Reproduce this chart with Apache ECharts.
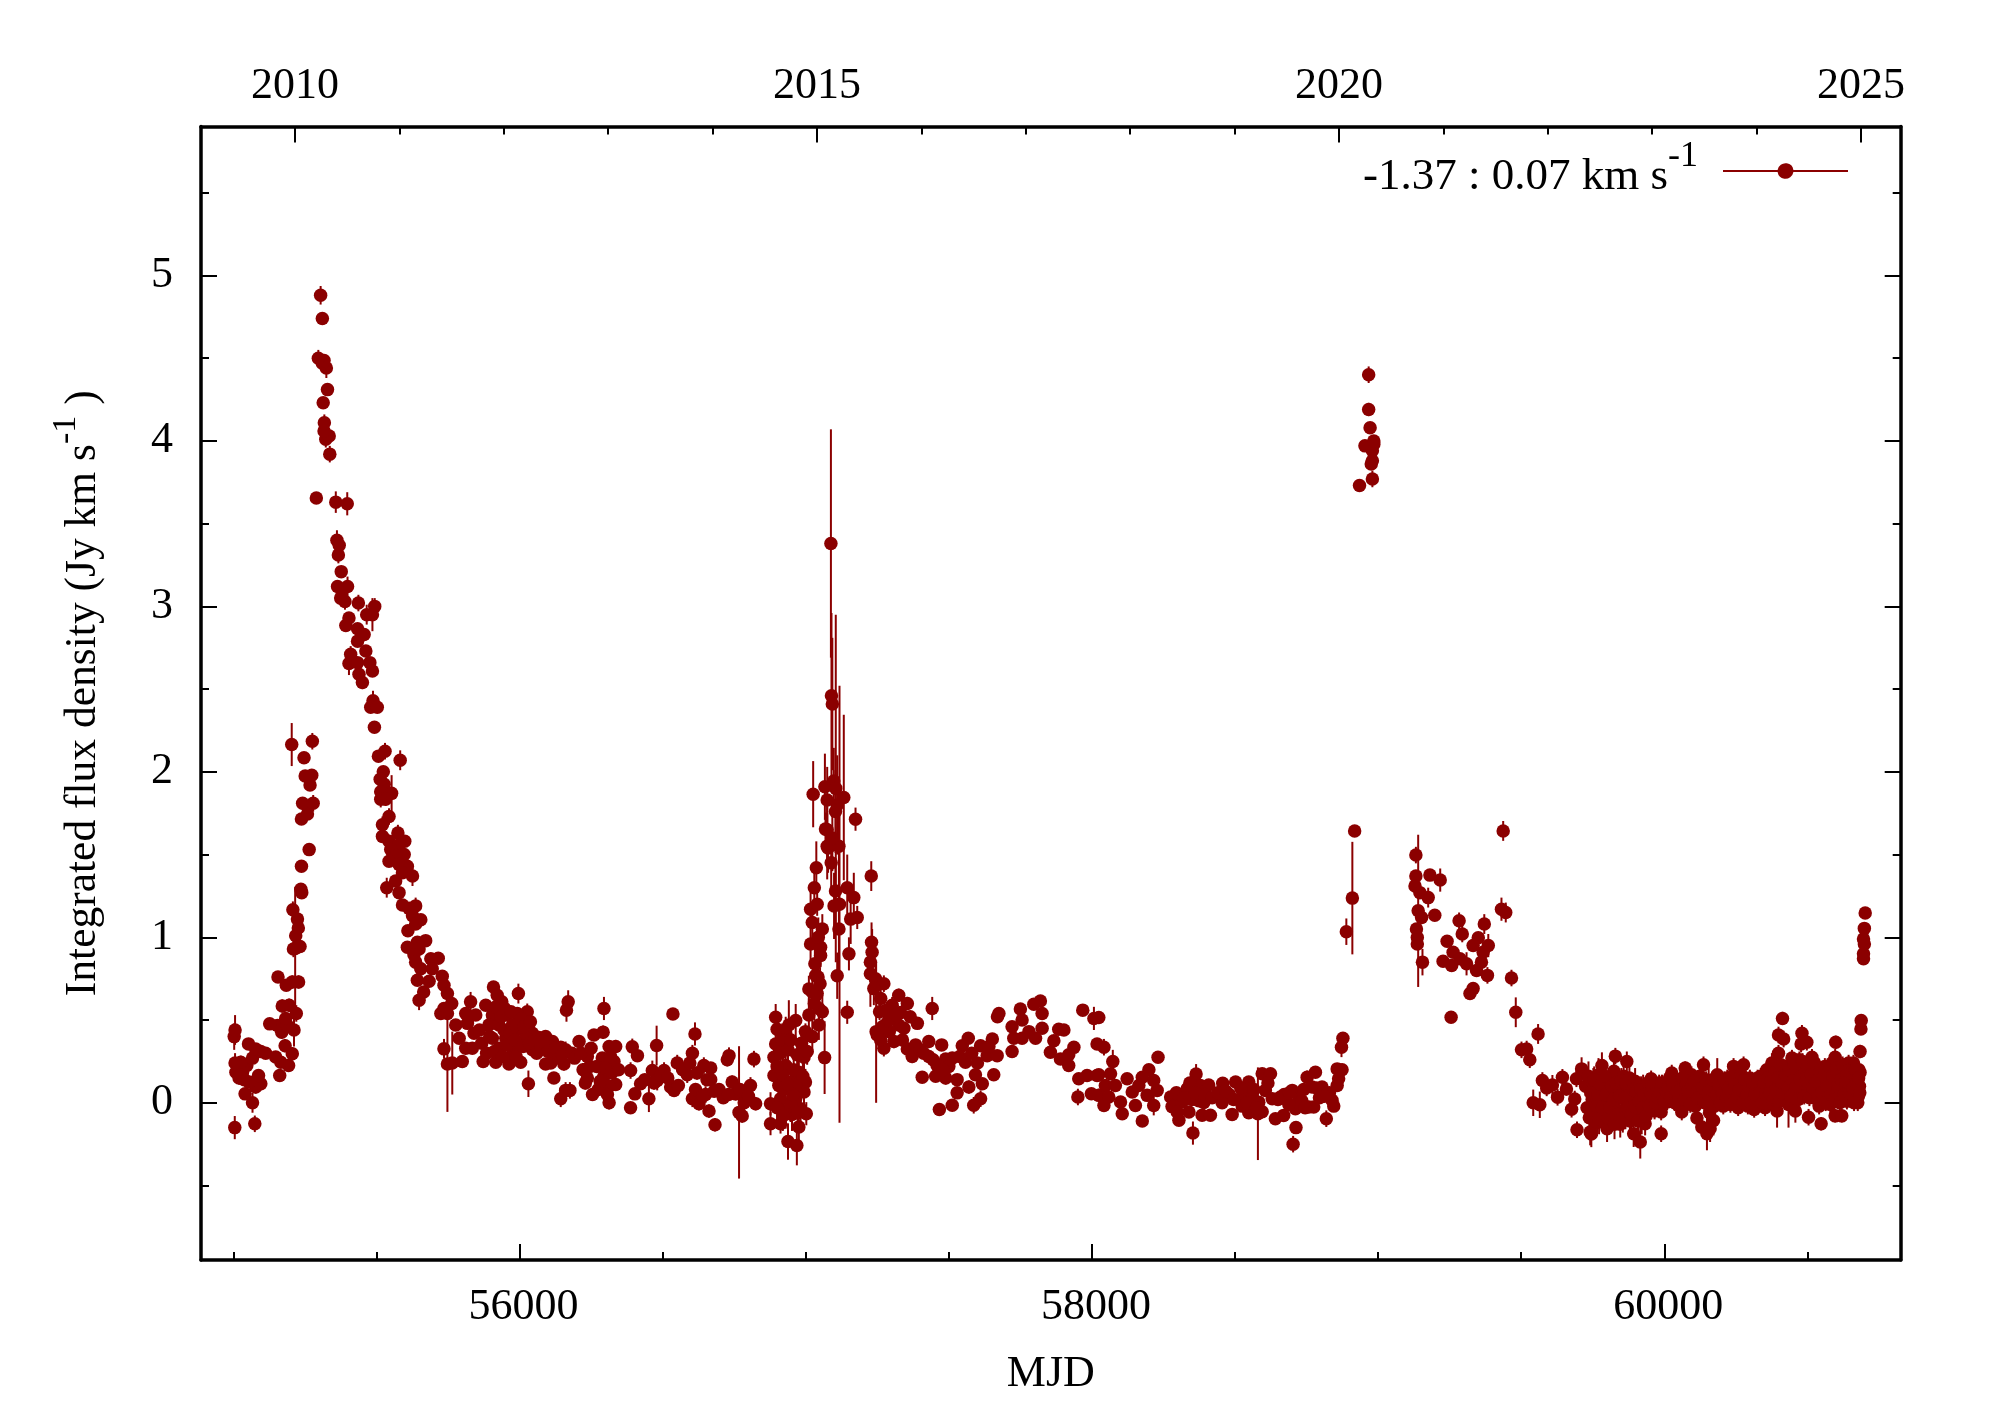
<!DOCTYPE html>
<html>
<head>
<meta charset="utf-8">
<title>Integrated flux density</title>
<script src="https://cdn.jsdelivr.net/npm/echarts@6/dist/echarts.min.js"></script>
<style>
html, body { margin: 0; padding: 0; background: #fff; }
#main { width: 2001px; height: 1401px; }
</style>
</head>
<body>
<div id="main"></div>
<script>
// rows are [MJD, flux, error]
var rise2010 = [
[55005,-.15,.07],[55075,-.127,.05],[55067,0,.06],[55041,.054,.03],[55078,.095,.04],[55096,.115,.03],[55055,.125,.03],[55038,.14,.03],[55020,.15,.04],[55088,.165,.03],[55162,.165,.03],[55032,.185,.04],[55009,.185,.05],[55193,.225,.03],[55047,.225,.03],[55166,.245,.03],[55026,.245,.04],[55006,.24,.06],[55067,.27,.03],[55148,.277,.03],[55206,.296,.04],[55113,.30,.03],[55096,.31,.03],[55078,.325,.03],[55181,.345,.04],[55053,.356,.03],[55003,.40,.08],[55169,.427,.04],[55006,.44,.09],[55212,.44,.1],[55154,.467,.03],[55189,.467,.03],[55127,.477,.03],[55183,.51,.04],[55220,.54,.05],[55195,.59,.04],[55171,.585,.04],[55206,.73,.04],[55228,.73,.04],[55185,.71,.03],[55156,.76,.03],[55210,.93,.05],[55216,.933,.37],[55233,.945,.04],[55218,1.01,.05],[55227,1.056,.04],[55224,1.11,.05],[55208,1.167,.05],[55236,1.29,.03],[55239,1.27,.03],[55238,1.43,.03],[55265,1.53,.03],[55238,1.715,.03],[55259,1.745,.03],[55259,1.79,.03],[55242,1.81,.03],[55279,1.81,.05],[55268,1.92,.03],[55251,1.975,.03],[55274,1.98,.03],[55247,2.085,.03],[55204,2.165,.13],[55276,2.185,.05]
];
var peak2010 = [
[55290,3.655,.01],[55358,3.63,.065],[55398,3.62,.07],[55337,3.92,.05],[55323,4.01,.05],[55335,4.03,.03],[55317,4.06,.03],[55318,4.11,.05],[55314,4.23,.03],[55329,4.31,.03],[55325,4.44,.06],[55311,4.47,.03],[55317,4.486,.03],[55297,4.50,.05],[55311,4.74,.03],[55305,4.88,.056]
];
var decay2010 = [
[55362,3.40,.06],[55370,3.37,.03],[55367,3.31,.05],[55377,3.21,.03],[55364,3.12,.03],[55399,3.12,.06],[55381,3.10,.03],[55375,3.05,.03],[55390,3.03,.05],[55437,3.02,.05],[55494,3.00,.05],[55466,2.95,.06],[55486,2.95,.1],[55404,2.93,.03],[55393,2.885,.04],[55434,2.865,.03],[55457,2.83,.03],[55434,2.79,.03],[55463,2.73,.03],[55410,2.71,.05],[55477,2.66,.03],[55404,2.655,.07],[55434,2.66,.03],[55486,2.61,.03],[55439,2.59,.03],[55451,2.54,.04],[55488,2.43,.06],[55480,2.39,.03],[55503,2.39,.03],[55493,2.27,.03],[55530,2.125,.05],[55507,2.095,.03],[55583,2.07,.06],[55524,2.00,.03],[55513,1.955,.03],[55527,1.925,.03],[55515,1.88,.04],[55553,1.87,.11],[55515,1.835,.05],[55532,1.835,.04],[55544,1.73,.05],[55521,1.68,.05],[55575,1.63,.05],[55521,1.61,.04],[55599,1.58,.03],[55544,1.58,.04],[55579,1.56,.03],[55550,1.53,.03],[55597,1.50,.03],[55568,1.49,.03],[55544,1.46,.03],[55608,1.43,.03],[55579,1.44,.03],[55591,1.39,.03],[55626,1.37,.06],[55567,1.34,.03],[55536,1.30,.06],[55579,1.27,.03],[55591,1.195,.03],[55637,1.19,.05],[55614,1.175,.03],[55626,1.13,.03],[55655,1.106,.03],[55637,1.08,.03],[55610,1.04,.03],[55672,.98,.03],[55643,.97,.03],[55608,.94,.03],[55649,.93,.03],[55631,.895,.03],[55716,.873,.03],[55690,.87,.03],[55637,.85,.03],[55655,.81,.03],[55695,.81,.03],[55730,.765,.03],[55643,.74,.03],[55684,.735,.03],[55736,.71,.03],[55665,.67,.03],[55748,.66,.03],[55649,.62,.06],[55763,.60,.03],[55736,.57,.03],[55725,.54,.03],[55748,.54,.03],[55777,.47,.03],[55789,.39,.03],[55736,.326,.06],[55748,.235,.29],[55765,.24,.19],[55800,.25,.03]
];
var quiet2011 = [
[55829,.61,.06],[55812,.54,.03],[55847,.53,.03],[55818,.48,.03],[55841,.42,.03],[55835,.33,.03],[55812,.33,.03],[55873,.25,.03],[55909,.70,.03],[55922,.65,.03],[55938,.61,.03],[55882,.59,.03],[55996,.66,.06],[56027,.55,.05],[55992,.54,.03],[55957,.53,.03],[55905,.53,.03],[55893,.47,.03],[55928,.47,.03],[55975,.47,.03],[55998,.445,.03],[56045,.42,.03],[56091,.40,.03],[55905,.39,.03],[55952,.39,.03],[56022,.39,.03],[56068,.395,.03],[56115,.37,.04],[55928,.33,.03],[55975,.33,.03],[56045,.32,.03],[56144,.335,.03],[55963,.27,.03],[56004,.245,.03],[56132,.28,.03],[56161,.32,.05],[55917,.245,.03],[55963,.235,.03],[56091,.235,.03],[56208,.37,.03],[56109,.24,.03],[56155,.235,.04],[56237,.28,.03],[56031,.115,.08],[56120,.15,.03],[56161,.075,.05],[56176,.075,.05],[56144,.024,.05],[56170,.61,.07],[56164,.56,.07],[56237,.15,.03],[56255,.05,.03],[56260,.41,.03],[56230,.12,.04],
[55860,.44,.03],[55868,.36,.03],[55885,.30,.03],[55896,.40,.03],[55912,.31,.03],[55918,.58,.03],[55935,.52,.03],[55940,.28,.03],[55946,.44,.03],[55948,.57,.03],[55958,.35,.03],[55968,.42,.03],[55970,.55,.03],[55984,.38,.03],[55988,.28,.03],[55986,.47,.03],[56006,.51,.03],[56012,.34,.03],[56016,.46,.03],[56035,.36,.03],[56038,.49,.03],[56052,.37,.03],[56060,.30,.03],[56074,.34,.03],[56082,.37,.03],[56100,.31,.03],[56126,.33,.03],[56138,.27,.03],[56150,.29,.03],[56183,.30,.03],[56192,.27,.03],[56215,.30,.03],[56222,.20,.04],[56246,.22,.03],[56250,.33,.03],
[56295,.57,.07],[56292,.427,.04],[56313,.34,.03],[56336,.34,.04],[56289,.27,.03],[56330,.25,.03],[56295,.16,.04],[56336,.11,.03],[56313,.10,.03],[56307,.05,.03],[56313,0,.04],[56270,.22,.03],[56275,.08,.04],[56302,.21,.03],[56322,.18,.03],[56346,.20,.03],[56282,.13,.03],[56318,.28,.03],
[56536,.537,.03],[56479,.346,.12],[56394,.338,.05],[56412,.285,.03],[56388,.195,.05],[56388,-.03,.03],[56423,.115,.03],[56403,.054,.03],[56452,.024,.08],[56464,.195,.06],[56481,.135,.06],[56505,.195,.05],[56528,.095,.05],[56551,.24,.05],[56540,.075,.04],[56555,.105,.03],[56586,.17,.05],[56604,.30,.05],[56613,.416,.07],[56644,.225,.05],[56604,.024,.05],[56627,-.006,.04],[56668,.21,.03],[56668,.14,.04],[56650,.05,.05],[56697,.08,.03],[56662,-.05,.04],[56683,-.133,.04],[56732,.285,.05],[56726,.26,.04],[56743,.125,.04],[56755,.054,.04],[56819,.264,.05],[56767,-.058,.40],[56778,-.08,.04],[56807,.105,.05],[56790,.024,.04],[56825,-.006,.04],
[56438,.14,.03],[56470,.12,.04],[56495,.16,.05],[56518,.15,.04],[56570,.20,.05],[56595,.24,.05],[56620,.18,.04],[56615,.08,.04],[56640,.04,.04],[56655,.14,.03],[56680,.07,.03],[56712,.03,.03],[56730,.05,.04],[56770,.08,.04],[56785,.0,.04],[56800,.04,.04]
];
var rise2015 = [
[56895,.517,.08],[56965,.497,.1],[56900,.445,.07],[56941,.47,.15],[56895,.355,.07],[56930,.42,.1],[56889,.275,.08],[56912,.30,.1],[56994,.275,.1],[56889,.165,.07],[56930,.225,.1],[56976,.185,.1],[56999,.125,.08],[56906,.105,.09],[56947,.125,.12],[56982,.085,.1],[56994,.065,.09],[56920,.17,.1],[56958,.2,.12],[56965,.11,.1],[56877,-.006,.07],[56912,.024,.1],[56965,.024,.12],[56982,-.036,.1],[56930,-.056,.1],[56947,-.016,.1],[57002,-.066,.07],[56877,-.126,.07],[56912,-.126,.06],[56976,-.146,.1],[56938,-.234,.11],[56969,-.258,.12],[57011,.688,.08],[57023,.67,.07],[57035,.77,.07],[57043,.76,.09],[57046,.57,.09],[57058,.55,.1],[57011,.53,.1],[56999,.43,.05],[57023,.40,.1],[57066,.273,.22],[57046,.47,.09],[57037,1.42,.16],[57069,1.654,.1],[57078,1.54,.15],[57089,1.45,.15],[57017,1.17,.1],[57040,1.2,.07],[57023,1.09,.12],[57058,1.05,.09],[57017,.96,.1],[57052,.94,.08],[57052,.89,.07],[57026,1.865,.2],[57067,1.91,.2],[57098,1.945,.2],[57075,1.83,.2],[57133,1.845,.5],[57110,1.8,.3],[57104,1.76,.25],[57075,1.65,.2],[57075,1.55,.2],[57116,1.55,.3],[57093,1.6,.2],
[56900,.22,.09],[56918,.38,.1],[56938,.32,.12],[56948,.38,.1],[56955,.05,.1],[56970,.29,.1],[56985,.36,.09],[56900,-.03,.08],[56922,.08,.1],[56938,.11,.1],[56952,-.07,.1],[56972,-.06,.1],[56990,.16,.1],[56920,-.08,.09],[57005,.31,.08],[57030,.60,.1],[57040,.66,.1],[57050,.72,.1],[57032,.84,.12],[57044,1.0,.12],[57030,1.30,.14]
];
var peak2015 = [
[57088,3.38,.69],[57090,2.46,.5],[57093,2.41,.4],[57105,1.9,1.05],[57118,1.2,1.32],[57110,.768,.14],[57104,1.28,.2],[57145,1.30,.2],[57168,1.24,.15],[57099,1.19,.2],[57157,1.11,.15],[57180,1.12,.07],[57116,1.05,.25],[57151,.90,.1],[57145,.547,.07],[57174,1.714,.07],[57229,1.37,.09]
];
var decay2015 = [
[57230,.97,.12],[57232,.91,.14],[57226,.85,.12],[57226,.78,.2],[57244,.75,.1],[57273,.72,.05],[57238,.69,.1],[57262,.63,.06],[57246,.43,.43],[57325,.65,.04],[57355,.6,.04],[57302,.59,.05],[57390,.48,.03],[57302,.53,.05],[57331,.545,.04],[57279,.47,.05],[57325,.47,.04],[57343,.45,.04],[57250,.41,.05],[57292,.43,.04],[57308,.37,.04],[57273,.33,.05],[57442,.57,.07],[57355,.325,.04],[57384,.35,.03],[57430,.37,.03],[57475,.35,.03],[57372,.28,.04],[57407,.155,.03],[57430,.28,.04],[57459,.225,.03],[57489,.265,.03],[57512,.27,.03],[57547,.345,.03],[57568,.39,.03],[57611,.345,.03],[57652,.385,.03],[57634,.285,.03],[57669,.285,.03],[57558,.245,.03],[57657,.17,.03],[57454,.16,.03],[57489,.15,.04],[57529,.14,.03],[57593,.17,.03],[57617,.115,.03],[57570,.095,.04],[57529,.06,.03],[57611,.025,.05],[57512,-.015,.03],[57587,-.015,.05],[57467,-.04,.02],
[57258,.55,.05],[57268,.46,.05],[57282,.56,.05],[57290,.50,.04],[57315,.53,.04],[57262,.38,.05],[57338,.38,.04],[57365,.52,.03],[57400,.32,.03],[57412,.30,.03],[57445,.26,.03],[57470,.22,.03],[57500,.22,.03],[57480,.20,.03],[57538,.28,.03],[57580,.30,.03],[57600,.24,.03],[57640,.34,.03]
];
var bump2017 = [
[57675,.54,.03],[57670,.52,.03],[57750,.567,.03],[57820,.615,.03],[57797,.595,.03],[57721,.46,.03],[57756,.5,.03],[57826,.54,.03],[57826,.45,.03],[57803,.39,.03],[57756,.39,.03],[57727,.39,.03],[57721,.31,.03],[57780,.43,.03],[57884,.445,.03],[57902,.44,.03],[57867,.375,.03],[57855,.305,.03],[57890,.265,.03],[57937,.335,.03],[57919,.29,.03],[57968,.56,.03],[58007,.51,.07],[58018,.355,.03],[57919,.225,.03],[57954,.145,.03],[57983,.165,.03],[58018,.165,.03],[57951,.035,.05],[57998,.055,.03],[58024,.045,.04]
];
var quiet2018 = [
[58042,.336,.05],[58231,.275,.03],[58024,.515,.03],[58073,.25,.07],[58065,.175,.03],[58024,.17,.03],[58042,-.016,.03],[58106,-.066,.03],[58047,.105,.03],[58082,.105,.03],[58059,.035,.03],[58123,.145,.03],[58141,.065,.03],[58100,.005,.03],[58152,-.016,.03],[58176,-.11,.02],[58216,-.016,.06],[58199,.2,.03],[58176,.155,.03],[58216,.135,.03],[58228,.075,.03],[58193,.045,.03],[58164,.105,.03],
[58275,.035,.03],[58280,-.023,.03],[58304,-.106,.03],[58333,.085,.03],[58315,.005,.03],[58298,-.055,.03],[58339,-.055,.03],[58364,.174,.06],[58379,.104,.03],[58408,.108,.03],[58373,.012,.03],[58391,.002,.03],[58385,-.075,.03],[58414,-.075,.03],[58353,-.183,.07],[58350,.02,.03],[58295,.06,.03],
[58457,.118,.03],[58502,.126,.03],[58548,.126,.03],[58455,0,.03],[58490,-.07,.03],[58513,.02,.03],[58548,-.06,.03],[58537,.066,.03],[58583,.004,.03],[58595,-.054,.03],[58595,.175,.03],[58624,.175,.03],[58606,.075,.03],[58630,.025,.03],[58580,-.066,.28],[58641,-.096,.03],[58670,-.076,.03],[58700,.075,.03],[58659,.035,.03],[58723,.02,.03],[58711,-.036,.03],[58758,-.026,.03],[58775,-.026,.03],[58713,-.15,.03],[58703,-.25,.05],[58819,-.096,.05],[58752,.155,.04],[58781,.185,.03],[58769,.095,.03],[58839,.015,.03],[58804,.095,.03],[58857,.105,.03],[58857,.205,.03],[58874,.2,.03],[58862,.145,.03],[58734,.01,.03],[58688,-.01,.03],[58480,.05,.03],[58525,-.02,.03],[58560,.03,.03],[58795,.03,.03],[58830,.06,.03],[58845,-.02,.03],
[58322,.03,.03],[58342,.12,.03],[58362,.06,.03],[58396,.05,.03],[58420,.03,.03],[58440,.06,.03],[58468,.07,.03],[58495,.02,.03],[58520,.09,.03],[58542,.0,.03],[58566,.08,.03],[58575,-.03,.03],[58615,.12,.03],[58650,.02,.03],[58672,.05,.03],[58690,.06,.03],[58740,.08,.03],[58745,-.03,.03],[58785,.09,.03],[58812,.04,.03]
];
var burst2020 = [
[58877,.39,.03],[58872,.336,.06],[58889,1.034,.08],[58910,1.237,.34],[58918,1.643,.03],[58935,3.73,.02],[58954,3.97,.03],[58967,4.40,.05],[58967,4.19,.04],[58972,4.08,.03],[58980,3.94,.03],[58980,3.88,.03],[58985,3.98,.03],[58985,4.0,.03],[58976,3.86,.03],[58980,3.77,.05]
];
var decay2021 = [
[59132,1.497,.05],[59132,1.37,.03],[59129,1.31,.03],[59146,1.27,.03],[59181,1.376,.02],[59217,1.346,.07],[59175,1.24,.06],[59140,1.16,.46],[59152,1.12,.03],[59198,1.134,.03],[59134,1.05,.03],[59137,.999,.03],[59137,.96,.03],[59155,.85,.08],[59283,1.10,.05],[59294,1.02,.05],[59241,.976,.03],[59371,1.08,.06],[59350,.998,.03],[59332,.95,.03],[59385,.95,.07],[59367,.91,.03],[59361,.85,.03],[59262,.91,.03],[59227,.855,.03],[59257,.83,.03],[59286,.87,.03],[59309,.84,.07],[59344,.80,.03],[59382,.77,.05],[59332,.69,.03],[59321,.66,.03],[59255,.517,.03],[59431,1.17,.07],[59446,1.15,.06],[59437,1.643,.06],[59466,.754,.05],[59481,.547,.09],[59559,.416,.06],[59501,.32,.05],[59519,.325,.05],[59530,.26,.05],[59542,0,.08],[59565,-.012,.08],[59574,.135,.05],[59609,.108,.06],[59589,.09,.05],[59644,.154,.05],[59658,.083,.04],[59627,.033,.05],[59687,.023,.05],[59676,-.039,.05],[59695,-.163,.05],[59693,.145,.05],[59711,.205,.07]
];
var band2022 = [
[59745,-.188,.08],[59741,-.177,.08],[59725,.10,.06],[59730,-.03,.07],[59735,.16,.09],[59738,-.09,.08],[59748,.02,.08],[59752,.12,.09],[59756,-.05,.08],[59760,.07,.09],[59765,-.12,.08],[59770,.17,.1],[59775,.0,.09],[59782,.225,.08],[59786,-.08,.1],[59790,.09,.08],[59796,-.02,.09],[59800,-.157,.08],[59806,.14,.07],[59812,.04,.09],[59818,-.09,.08],[59824,.19,.07],[59829,.282,.05],[59834,-.04,.09],[59840,.09,.08],[59846,-.13,.08],[59852,.03,.09],[59858,.16,.08],[59864,-.06,.1],[59869,.25,.06],[59875,.08,.08],[59880,-.11,.09],[59886,.01,.09],[59893,-.187,.08],[59898,.13,.08],[59904,-.04,.08],[59910,.06,.09],[59916,-.237,.1],[59921,-.09,.1],[59926,.1,.07],[59933,-.127,.07],[59938,-.02,.09],[59944,.05,.06],[59950,.11,.06],[59954,.145,.05],[59960,.02,.05],[59966,-.05,.05],[59974,.08,.05],[59982,.12,.05],[59989,-.187,.05],[59989,-.056,.05],[59996,.05,.05],[60004,.10,.05],[60010,.005,.05],[60018,.15,.05],[60026,.18,.05],[60032,.06,.05],[60040,.11,.05],[60047,-.01,.05],[60055,.14,.05],[60061,-.056,.05],[60068,.08,.05],[60073,.21,.04],[60080,.03,.05],[60088,.12,.05],[60095,.17,.05],[60101,.05,.05],[60108,-.02,.05],[60114,-.092,.05],[60121,.11,.05],[60128,.03,.05],[60131,-.147,.05],[60137,.23,.05],[60143,.07,.05],[60149,-.187,.1],[60155,.13,.1],[60160,-.157,.08],[60166,.01,.05],[60172,-.107,.09],[60178,.09,.05],[60185,.17,.1],[60192,.04,.05],[60199,.12,.05],[60206,-.02,.05],[60213,.08,.05],[60220,.15,.05],[60227,.03,.05],[60235,.10,.05],[60242,.22,.05],[60250,.06,.05],[60258,-.03,.05],[60265,.13,.05],[60272,.04,.05],[60277,.23,.05],[60284,.09,.05],[60292,-.02,.05],[60299,.15,.05],[60306,.05,.05],[60314,-.04,.05],[60322,.11,.05],[60330,.02,.05],[60337,.16,.05],[60345,.07,.05],[60352,-.03,.05],[60358,.20,.05],[60365,.10,.05],[60371,.0,.05],[60376,.24,.06],[60382,.13,.05],[60388,.05,.05],[60394,-.05,.1],[60399,.41,.05],[60399,.30,.05],[60405,.18,.05],[60413,.51,.04],[60417,.385,.05],[60421,.09,.05],[60428,.22,.05],[60434,-.01,.14],[60440,.14,.05],[60446,.27,.05],[60452,.06,.05],[60458,-.05,.07],[60465,.17,.05],[60472,.26,.05],[60478,.355,.05],[60481,.42,.05],[60486,.09,.05],[60492,.19,.05],[60498,.366,.05],[60504,-.087,.05],[60510,.12,.05],[60516,.275,.05],[60522,.03,.05],[60528,.18,.05],[60535,.08,.05],[60541,-.02,.05],[60548,-.127,.04],[60554,.13,.05],[60561,.22,.05],[60567,.05,.05],[60573,.16,.05],[60580,-.01,.05],[60586,.24,.05],[60592,.10,.05],[60597,-.079,.04],[60597,.275,.05],[60599,.366,.04],[60605,.15,.05],[60610,.04,.05],[60616,.2,.05],[60620,-.079,.04],[60626,.09,.05],[60632,.17,.05],[60638,.01,.05],[60644,.24,.05],[60650,.12,.05],[60655,.03,.05],[60661,.24,.05],[60665,.15,.05],[60670,.07,.05],[60676,.0,.05],[60680,.2,.05],[60684,.31,.04],[60684,.183,.05],[60682,.1,.05],[60678,.04,.05]
];
var bandFill2022 = [
[59743,.06,.08],[59747,-.07,.08],[59755,.14,.08],[59763,-.02,.09],[59768,.05,.08],[59772,-.1,.09],[59778,.11,.08],[59784,-.03,.09],[59792,.16,.07],[59798,.05,.08],[59804,-.09,.09],[59810,-.03,.08],[59816,.1,.08],[59822,.02,.09],[59826,-.13,.09],[59832,.12,.08],[59838,-.07,.09],[59844,.04,.09],[59850,.13,.08],[59855,-.09,.09],[59862,.03,.08],[59867,.12,.07],[59872,-.03,.09],[59878,.15,.08],[59884,-.07,.1],[59890,.08,.08],[59896,-.02,.09],[59902,.07,.08],[59908,-.11,.09],[59913,.01,.09],[59919,.08,.08],[59924,-.03,.09],[59930,.05,.08],[59936,-.08,.08],[59942,.12,.06],[59948,-.02,.07],[59952,.06,.05],[59958,.1,.05],[59964,.05,.05],[59970,.0,.05],[59978,.03,.05],[59985,.07,.05],[59992,.12,.05],[60000,.01,.05],[60007,.07,.05],[60014,.09,.05],[60022,.03,.05],[60029,.12,.05],[60036,.0,.05],[60044,.07,.05],[60051,.02,.05],[60059,.08,.05],[60064,.15,.05],[60071,.02,.05],[60077,.11,.05],[60084,.07,.05],[60091,-.01,.05],[60098,.1,.05],[60105,.13,.05],[60111,.06,.05],[60118,.03,.05],[60124,.16,.05],[60134,.09,.05],[60140,.0,.05],[60146,.14,.05],[60152,.05,.05],[60158,-.06,.1],[60163,.08,.05],[60169,.14,.05],[60175,-.02,.07],[60182,.05,.05],[60189,.11,.05],[60196,.0,.05],[60203,.06,.05],[60210,.14,.05],[60217,.03,.05],[60224,.09,.05],[60231,-.01,.05],[60238,.16,.05],[60246,.11,.05],[60254,.03,.05],[60262,.08,.05],[60269,.17,.05],[60275,.0,.05],[60281,.14,.05],[60288,.05,.05],[60295,.1,.05],[60303,.0,.05],[60310,.12,.05],[60318,.05,.05],[60326,.15,.05],[60334,.06,.05],[60341,.0,.05],[60349,.12,.05],[60355,.05,.05],[60362,.15,.05],[60368,.06,.05],[60374,.13,.05],[60380,.02,.05],[60386,.18,.05],[60391,.08,.05],[60397,.15,.05],[60402,.01,.05],[60408,.23,.05],[60410,.12,.05],[60415,.06,.05],[60424,.17,.05],[60431,.09,.05],[60437,.2,.05],[60443,.04,.05],[60449,.13,.05],[60455,.23,.05],[60461,.1,.05],[60468,.02,.05],[60475,.14,.05],[60483,.25,.05],[60489,.04,.05],[60495,.13,.05],[60501,.21,.05],[60507,.03,.05],[60513,.17,.05],[60519,.09,.05],[60525,.24,.05],[60531,.13,.05],[60538,.04,.05],[60544,.19,.05],[60551,.06,.05],[60558,.16,.05],[60564,.0,.05],[60570,.1,.05],[60576,.22,.05],[60583,.05,.05],[60589,.16,.05],[60595,.02,.05],[60602,.21,.05],[60607,.1,.05],[60613,.0,.05],[60619,.14,.05],[60623,.23,.05],[60629,.05,.05],[60635,.13,.05],[60641,.19,.05],[60647,.06,.05],[60652,.18,.05],[60658,.09,.05],[60663,.0,.05],[60668,.2,.05],[60673,.12,.05],[60679,.15,.05],[60683,.06,.05]
];
var end2024 = [
[60687,.446,.03],[60688,.497,.03],[60696,.87,.03],[60696,.90,.03],[60699,.96,.03],[60696,.99,.03],[60699,1.054,.03],[60702,1.147,.03]
];

var tickColor = '#000';
var markColor = '#8b0000';
var serifFont = '"Liberation Serif", "Times New Roman", serif';

var xMin = 54887, xMax = 60826;
var yMin = -0.95, yMax = 5.9;
var yearMin = 2009.10, yearMax = 2025.38;

var xMajor = [56000, 58000, 60000];
var xMinor = [55000, 55500, 56500, 57000, 57500, 58500, 59000, 59500, 60500];
var yMajor = [0, 1, 2, 3, 4, 5];
var yMinorTicks = [-0.5, 0.5, 1.5, 2.5, 3.5, 4.5, 5.5];
var yearMajor = [2010, 2015, 2020, 2025];
var yearMinor = [2011, 2012, 2013, 2014, 2016, 2017, 2018, 2019, 2021, 2022, 2023, 2024];

var legendName = 'flux';
var legendText = '{main|-1.37 : 0.07 km s}{sup|-1}{gap| }';
var yTitle = 'Integrated flux density (Jy km s{sup|-1}\u00a0)';

var allPoints = [].concat(rise2010, peak2010, decay2010, quiet2011, rise2015, peak2015, decay2015, bump2017, quiet2018, burst2020, decay2021, band2022, bandFill2022, end2024);

function plainNumber(value) {
    return String(value);
}

function makeAxis(position, min, max, ticks, length, withLine, margin) {
    return {
        type: 'value',
        position: position,
        min: min,
        max: max,
        splitLine: { show: false },
        axisLine: { show: withLine, onZero: false, lineStyle: { color: tickColor, width: 3.5 } },
        axisTick: { show: true, inside: true, length: length, customValues: ticks, lineStyle: { color: tickColor, width: 2 } },
        axisLabel: margin ? { show: true, customValues: ticks, margin: margin, formatter: plainNumber, color: '#000', fontFamily: serifFont, fontSize: 44 } : { show: false }
    };
}

var xBottom = makeAxis('bottom', xMin, xMax, xMajor, 16, true, 25);
xBottom.axisLabel.padding = [0, 0, 0, 8];
xBottom.name = 'MJD';
xBottom.nameLocation = 'middle';
xBottom.nameGap = 92;
xBottom.nameTextStyle = { color: '#000', fontFamily: serifFont, fontSize: 44 };

var yLeft = makeAxis('left', yMin, yMax, yMajor, 16, true, 28);
yLeft.name = yTitle;
yLeft.nameLocation = 'middle';
yLeft.nameGap = 82;
yLeft.nameRotate = 90;
yLeft.nameTextStyle = {
    color: '#000', fontFamily: serifFont, fontSize: 43.5,
    rich: { sup: { fontFamily: serifFont, fontSize: 34, padding: [0, 0, 36, 0], color: '#000' } }
};

var myChart = echarts.init(document.getElementById('main'));

var option = {
    animation: false,
    backgroundColor: '#fff',
    grid: { left: 201, right: 100.3, top: 126.5, height: 1134.5, containLabel: false },
    legend: {
        show: true,
        selectedMode: false,
        right: 148,
        top: 134,
        align: 'right',
        itemWidth: 125,
        itemHeight: 16,
        itemGap: 0,
        data: [{ name: legendName, icon: 'path://M0 7H54.6A8 8 0 0 1 70.4 7H125V9H70.4A8 8 0 0 1 54.6 9H0Z' }],
        formatter: function () { return legendText; },
        textStyle: {
            color: '#000', fontFamily: serifFont, fontSize: 45,
            rich: {
                main: { fontFamily: serifFont, fontSize: 45, color: '#000', padding: [12, 0, 0, 0] },
                sup: { fontFamily: serifFont, fontSize: 36, color: '#000', padding: [0, 0, 28, 0] },
                gap: { width: 20, fontSize: 20 }
            }
        }
    },
    xAxis: [
        xBottom,
        makeAxis('bottom', xMin, xMax, xMinor, 8, false, 0),
        makeAxis('top', yearMin, yearMax, yearMajor, 16, true, 18),
        makeAxis('top', yearMin, yearMax, yearMinor, 8, false, 0)
    ],
    yAxis: [
        yLeft,
        makeAxis('left', yMin, yMax, yMinorTicks, 8, false, 0),
        makeAxis('right', yMin, yMax, yMajor, 16, true, 0),
        makeAxis('right', yMin, yMax, yMinorTicks, 8, false, 0)
    ],
    series: [{
        type: 'custom',
        silent: true,
        data: allPoints,
        encode: { x: 0, y: 1 },
        renderItem: function (params, api) {
            var top = api.coord([api.value(0), api.value(1) + api.value(2)]);
            var bottom = api.coord([api.value(0), api.value(1) - api.value(2)]);
            return {
                type: 'line',
                shape: { x1: top[0], y1: top[1], x2: bottom[0], y2: bottom[1] },
                style: { stroke: markColor, lineWidth: 2 }
            };
        }
    }, {
        name: legendName,
        type: 'scatter',
        data: allPoints,
        encode: { x: 0, y: 1 },
        symbol: 'circle',
        symbolSize: 13.5,
        itemStyle: { color: markColor, opacity: 1 }
    }]
};

myChart.setOption(option);
</script>
</body>
</html>
